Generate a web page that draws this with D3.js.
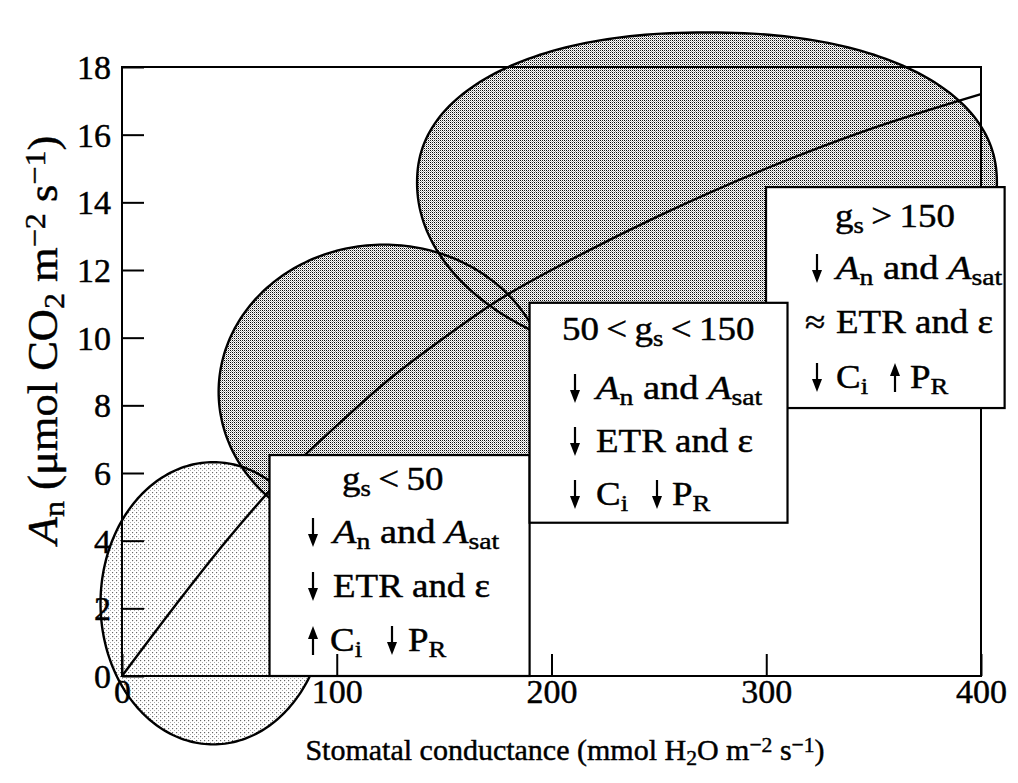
<!DOCTYPE html>
<html>
<head>
<meta charset="utf-8">
<script src="https://cdn.jsdelivr.net/npm/d3@7"></script>
<style>
  html, body { margin: 0; padding: 0; background: #fff; }
  svg { display: block; font-family: "Liberation Serif", "Times New Roman", serif; }
  text { stroke: #000; stroke-width: 0.45px; }
</style>
</head>
<body>
<svg id="chart" width="1018" height="783"></svg>
<script>
// ---------- data ----------
const xTicks = [0, 100, 200, 300, 400];
const yTicks = [0, 2, 4, 6, 8, 10, 12, 14, 16, 18];
const curveG = [0, 25, 50, 75, 100, 125, 150, 175, 200, 250, 300, 350, 400];
const curveA = [0, 2.1, 4.1, 5.9, 7.4, 8.8, 10.0, 11.1, 12.0, 13.6, 15.0, 16.2, 17.2];
// regions (g_s < 50, 50-150, > 150): centre (g, A), half-widths, shape exponents
const regionNames = ["low", "mid", "high"];
const regionCx = [42.5, 122, 272.4];
const regionCy = [2.15, 8.4, 14.57];
const regionRx = [52.5, 77, 135];
const regionRyTop = [4.17, 4.35, 4.45];
const regionRyBottom = [4.17, 4.35, 5.47];
const regionExpTop = [2, 2, 2.2];
const regionExpBottom = [2, 2, 2];
// annotation boxes (data coordinates): low, high, mid (mid drawn last)
const boxX0 = [68.7, 299.9, 189.8];
const boxX1 = [189.8, 411, 309.9];
const boxY0 = [0, 7.92, 4.53];
const boxY1 = [6.53, 14.45, 11.03];

// ---------- setup ----------
const svg = d3.select("#chart");
const x = d3.scaleLinear().domain([0, 400]).range([122, 981]);
const y = d3.scaleLinear().domain([0, 18]).range([676, 67]);

const defs = svg.append("defs");
const pd = defs.append("pattern").attr("id", "dense").attr("patternUnits", "userSpaceOnUse")
  .attr("width", 4).attr("height", 4);
pd.append("rect").attr("width", 4).attr("height", 4).attr("fill", "#fff");
[[0,0,"#000"],[2,2,"#000"],[2,0,"#222"],[0,2,"#222"],[1,1,"#9a9a9a"],[3,3,"#9a9a9a"],[1,3,"#c4c4c4"],[3,1,"#c4c4c4"]]
  .forEach(([px,py,c]) => pd.append("rect").attr("x",px).attr("y",py).attr("width",1).attr("height",1).attr("fill",c));
const ps = defs.append("pattern").attr("id", "sparse").attr("patternUnits", "userSpaceOnUse")
  .attr("width", 4).attr("height", 4);
ps.append("rect").attr("width", 4).attr("height", 4).attr("fill", "#fff");
[[0,0,"#666"],[2,2,"#aaa"],[1,0,"#e6e6e6"],[0,1,"#e6e6e6"]]
  .forEach(([px,py,c]) => ps.append("rect").attr("x",px).attr("y",py).attr("width",1).attr("height",1).attr("fill",c));
const fills = ["url(#sparse)", "url(#dense)", "url(#dense)"];

function outline(i) {
  const pts = [];
  const N = 240;
  for (let k = 0; k < N; k++) {
    const t = 2 * Math.PI * k / N;
    const c = Math.cos(t), s = Math.sin(t);
    const top = s >= 0;
    const ex = top ? regionExpTop[i] : regionExpBottom[i];
    const ry = top ? regionRyTop[i] : regionRyBottom[i];
    const gx = regionCx[i] + regionRx[i] * Math.sign(c) * Math.pow(Math.abs(c), 2 / ex);
    const ay = regionCy[i] + ry * Math.sign(s) * Math.pow(Math.abs(s), 2 / ex);
    pts.push([x(gx), y(ay)]);
  }
  return d3.line().curve(d3.curveLinearClosed)(pts);
}
const shapes = regionNames.map((n, i) => ({ d: outline(i), fill: fills[i] }));

svg.append("g").selectAll("path").data(shapes).join("path")
  .attr("d", d => d.d).attr("fill", d => d.fill).attr("stroke", "none");
svg.append("g").selectAll("path").data(shapes).join("path")
  .attr("d", d => d.d).attr("fill", "none").attr("stroke", "#000").attr("stroke-width", 2.4);

// frame
svg.append("rect").attr("x", x(0)).attr("y", y(18))
  .attr("width", x(400) - x(0)).attr("height", y(0) - y(18))
  .attr("fill", "none").attr("stroke", "#000").attr("stroke-width", 2);

// curve
const pts = curveG.map((g, i) => [g, curveA[i]]);
svg.append("path").datum(pts)
  .attr("d", d3.line().x(d => x(d[0])).y(d => y(d[1])).curve(d3.curveCatmullRom.alpha(0.5)))
  .attr("fill", "none").attr("stroke", "#000").attr("stroke-width", 2.4);

// boxes
boxX0.forEach((_, i) => {
  svg.append("rect")
    .attr("x", x(boxX0[i])).attr("y", y(boxY1[i]))
    .attr("width", x(boxX1[i]) - x(boxX0[i])).attr("height", y(boxY0[i]) - y(boxY1[i]))
    .attr("fill", "#fff").attr("stroke", "#000").attr("stroke-width", 2.2);
});
svg.append("line").attr("x1", x(0)).attr("x2", x(400)).attr("y1", y(0)).attr("y2", y(0))
  .attr("stroke", "#000").attr("stroke-width", 2);

// axes (inward ticks)
const xAxis = svg.append("g").attr("transform", `translate(0,${y(0)})`)
  .call(d3.axisBottom(x).tickValues(xTicks).tickSize(-22).tickSizeOuter(0).tickPadding(10).tickFormat(d3.format("d")));
const yAxis = svg.append("g").attr("transform", `translate(${x(0)},0)`)
  .call(d3.axisLeft(y).tickValues(yTicks).tickSize(-22).tickSizeOuter(0).tickPadding(10).tickFormat(d3.format("d")));
[xAxis, yAxis].forEach(a => {
  a.select(".domain").remove();
  a.selectAll(".tick line").attr("stroke", "#000").attr("stroke-width", 2);
  a.selectAll(".tick text").attr("fill", "#000").attr("font-size", 34)
    .attr("font-family", "Liberation Serif, serif");
});
xAxis.selectAll(".tick text").attr("dy", "0.71em").attr("y", 3);
yAxis.selectAll(".tick text").attr("x", -11).attr("dy", "0.34em");

function rich(g, parts, xx, yy, size, sx, anchor) {
  const t = g.append("text").attr("transform", `translate(${xx},${yy}) scale(${sx},1)`)
    .attr("font-size", size).attr("fill", "#000").attr("text-anchor", anchor || "start");
  parts.forEach(p => {
    const s = t.append("tspan").text(p.t);
    if (p.i) s.attr("font-style", "italic");
    if (p.sub) s.attr("font-size", size * 0.72).attr("baseline-shift", "-22%");
    if (p.sup) s.attr("font-size", size * 0.72).attr("baseline-shift", "38%");
  });
  return t;
}
function arrow(g, ax, b, dir) {
  const cxp = ax + 5;
  if (dir === "down") {
    g.append("line").attr("x1", cxp).attr("x2", cxp).attr("y1", b - 25).attr("y2", b - 4)
      .attr("stroke", "#000").attr("stroke-width", 2.2);
    g.append("path").attr("d", `M${ax},${b - 9} L${ax + 10},${b - 9} L${cxp},${b + 4} Z`).attr("fill", "#000");
  } else {
    g.append("line").attr("x1", cxp).attr("x2", cxp).attr("y1", b + 4).attr("y2", b - 16)
      .attr("stroke", "#000").attr("stroke-width", 2.2);
    g.append("path").attr("d", `M${ax},${b - 12} L${ax + 10},${b - 12} L${cxp},${b - 25} Z`).attr("fill", "#000");
  }
}

// axis titles
rich(svg, [
  {t: "Stomatal conductance (mmol H"}, {t: "2", sub: 1}, {t: "O m"}, {t: "\u22122", sup: 1},
  {t: " s"}, {t: "\u22121", sup: 1}, {t: ")"}
], 565, 760, 30, 1.0, "middle");

const yt = svg.append("g").attr("transform", "translate(57,340) rotate(-90)");
rich(yt, [
  {t: "A", i: 1}, {t: "n", sub: 1}, {t: " (\u03bcmol CO"}, {t: "2", sub: 1}, {t: " m"},
  {t: "\u22122", sup: 1}, {t: " s"}, {t: "\u22121", sup: 1}, {t: ")"}
], 0, 0, 42, 1.06, "middle");

// box texts
const fs = 33, sx = 1.12;
const AnAsat = [{t: "A", i: 1}, {t: "n", sub: 1}, {t: " and "}, {t: "A", i: 1}, {t: "sat", sub: 1}];
const etr = [{t: "ETR and \u03b5"}];
const ts = "\u2009";
// box 1
rich(svg, [{t: "g"}, {t: "s", sub: 1}, {t: ts + "<" + ts + "50"}], 342, 490, fs, sx);
arrow(svg, 308, 543, "down"); rich(svg, AnAsat, 333, 543, fs, sx * 1.04);
arrow(svg, 308, 597, "down"); rich(svg, etr, 333, 597, fs, sx);
arrow(svg, 308, 651, "up"); rich(svg, [{t: "C"}, {t: "i", sub: 1}], 330, 651, fs, sx);
arrow(svg, 387, 651, "down"); rich(svg, [{t: "P"}, {t: "R", sub: 1}], 408, 651, fs, sx);
// box 3
rich(svg, [{t: "g"}, {t: "s", sub: 1}, {t: ts + ">" + ts + "150"}], 835, 227, fs, sx);
arrow(svg, 812, 279, "down"); rich(svg, AnAsat, 836, 279, fs, sx * 1.04);
rich(svg, [{t: "\u2248"}], 805, 333, fs, sx); rich(svg, etr, 836, 333, fs, sx);
arrow(svg, 812, 388, "down"); rich(svg, [{t: "C"}, {t: "i", sub: 1}], 836, 388, fs, sx);
arrow(svg, 890, 388, "up"); rich(svg, [{t: "P"}, {t: "R", sub: 1}], 910, 388, fs, sx);
// box 2 (on top)
const g2 = svg.append("g");
rich(g2, [{t: "50" + ts + "<" + ts + "g"}, {t: "s", sub: 1}, {t: ts + "<" + ts + "150"}], 562, 340, fs, sx);
arrow(g2, 570, 399, "down"); rich(g2, AnAsat, 596, 399, fs, sx * 1.04);
arrow(g2, 570, 452, "down"); rich(g2, etr, 596, 452, fs, sx);
arrow(g2, 570, 505, "down"); rich(g2, [{t: "C"}, {t: "i", sub: 1}], 596, 505, fs, sx);
arrow(g2, 652, 505, "down"); rich(g2, [{t: "P"}, {t: "R", sub: 1}], 672, 505, fs, sx);
</script>
</body>
</html>
